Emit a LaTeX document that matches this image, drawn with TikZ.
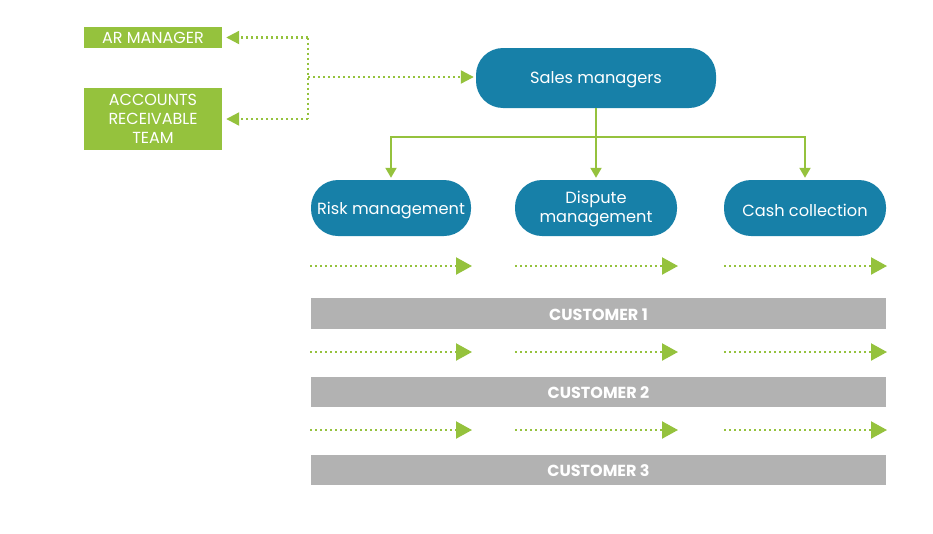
\documentclass[tikz,border=0pt]{standalone}
\usepackage{fontspec}
\setmainfont{Poppins}
\usetikzlibrary{arrows.meta}
\definecolor{agreen}{HTML}{95C23D}
\definecolor{ablue}{HTML}{1780A8}
\definecolor{agray}{HTML}{B2B2B2}
\newcommand{\lowr}[2]{\raisebox{-#1}[\height][\depth]{#2}}
\begin{document}
\begin{tikzpicture}[x=1pt,y=-1pt,
  greenbox/.style={fill=agreen,draw=none,text=white,align=center,font=\fontsize{16}{19}\selectfont,inner sep=0pt},
  bluebox/.style={fill=ablue,draw=none,text=white,align=center,rounded corners=27pt,font=\fontsize{16.2}{19}\selectfont,inner sep=0pt},
  custbar/.style={fill=agray,draw=none,text=white,font=\fontsize{16}{18}\bfseries\selectfont,inner sep=0pt,minimum width=575pt},
  dotline/.style={agreen,line width=2.2pt,dash pattern=on 2pt off 3pt},
  smalltip/.style={-{Triangle[length=13pt,width=13pt]}},
  bigtip/.style={-{Triangle[length=16pt,width=17pt]}},
  solidarrow/.style={agreen,line width=2pt,-{Triangle[length=10pt,width=11pt]}}
]
\useasboundingbox (0,0) rectangle (933,533);

% left boxes
\node[greenbox,minimum width=138pt,minimum height=21pt] (arm) at (153,37.5) {AR MANAGER};
\node[greenbox,minimum width=138pt,minimum height=62pt] (art) at (153,119) {ACCOUNTS\\RECEIVABLE\\TEAM};

% blue boxes
\node[bluebox,minimum width=240pt,minimum height=60pt] (sales) at (596,78) {\lowr{2pt}{Sales managers}};
\node[bluebox,minimum width=160pt,minimum height=56pt] (risk) at (391,208) {\lowr{2.5pt}{Risk management}};
\node[bluebox,minimum width=162pt,minimum height=56pt] (disp) at (596,208) {\lowr{1.5pt}{\begin{tabular}{@{}c@{}}Dispute\\management\end{tabular}}};
\node[bluebox,minimum width=162pt,minimum height=56pt] (cash) at (805,208) {\lowr{2.5pt}{Cash collection}};

% customers
\node[custbar,minimum height=31pt] (c1) at (598.5,313.5) {\lowr{1pt}{CUSTOMER 1}};
\node[custbar,minimum height=30pt] (c2) at (598.5,392) {\lowr{1pt}{CUSTOMER 2}};
\node[custbar,minimum height=30pt] (c3) at (598.5,470) {\lowr{1pt}{CUSTOMER 3}};

% left dotted connectors
\coordinate (j1) at (308,37.5);
\coordinate (j2) at (308,119);
\coordinate (jm) at (308,77);
\draw[dotline] (j1) -- (j2);
\draw[dotline,smalltip,shorten >=4pt] (j1) -- (arm.east);
\draw[dotline,smalltip,shorten >=4pt] (j2) -- (art.east);
\draw[dotline,smalltip,shorten >=2pt] (jm) -- (jm -| sales.west);

% solid tree
\coordinate (hub) at (596,137);
\draw[solidarrow,shorten >=2pt] (sales.south) -- (disp.north);
\draw[solidarrow,shorten >=2pt] (hub) -| (risk.north);
\draw[solidarrow,shorten >=2pt] (hub) -| (cash.north);

% dotted row arrows
\foreach \r/\y in {a/266,b/352,c/430}{
  \coordinate (\r1s) at (310,\y); \coordinate (\r1e) at (472,\y);
  \coordinate (\r2s) at (515,\y); \coordinate (\r2e) at (678,\y);
  \coordinate (\r3s) at (724,\y); \coordinate (\r3e) at (887,\y);
  \draw[dotline,bigtip] (\r1s) -- (\r1e);
  \draw[dotline,bigtip] (\r2s) -- (\r2e);
  \draw[dotline,bigtip] (\r3s) -- (\r3e);
}
\end{tikzpicture}
\end{document}
